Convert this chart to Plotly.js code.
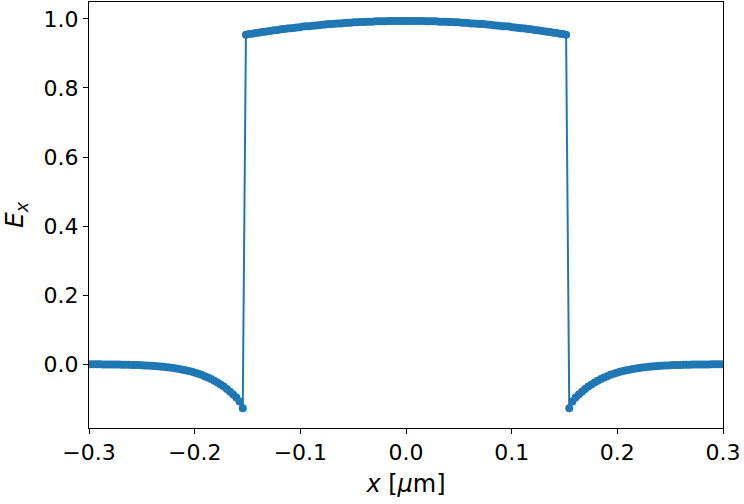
<!DOCTYPE html>
<html>
<head>
<meta charset="utf-8">
<script src="https://cdn.plot.ly/plotly-3.0.1.min.js"></script>
<style>
  html, body { margin: 0; padding: 0; background: #ffffff; }
  #chart { width: 744px; height: 504px; }
</style>
</head>
<body>
<div id="chart"></div>
<script>
// x positions in micrometres
var xValues = [
  -0.2985, -0.2955, -0.2925, -0.2895, -0.2865, -0.2835, -0.2805, -0.2775, -0.2745, -0.2715,
  -0.2685, -0.2655, -0.2625, -0.2595, -0.2565, -0.2535, -0.2505, -0.2475, -0.2445, -0.2415,
  -0.2385, -0.2355, -0.2325, -0.2295, -0.2265, -0.2235, -0.2205, -0.2175, -0.2145, -0.2115,
  -0.2085, -0.2055, -0.2025, -0.1995, -0.1965, -0.1935, -0.1905, -0.1875, -0.1845, -0.1815,
  -0.1785, -0.1755, -0.1725, -0.1695, -0.1665, -0.1635, -0.1605, -0.1575, -0.1545,
  -0.1515, -0.1485, -0.1455, -0.1425, -0.1395, -0.1365, -0.1335, -0.1305, -0.1275, -0.1245,
  -0.1215, -0.1185, -0.1155, -0.1125, -0.1095, -0.1065, -0.1035, -0.1005, -0.0975, -0.0945,
  -0.0915, -0.0885, -0.0855, -0.0825, -0.0795, -0.0765, -0.0735, -0.0705, -0.0675, -0.0645,
  -0.0615, -0.0585, -0.0555, -0.0525, -0.0495, -0.0465, -0.0435, -0.0405, -0.0375, -0.0345,
  -0.0315, -0.0285, -0.0255, -0.0225, -0.0195, -0.0165, -0.0135, -0.0105, -0.0075, -0.0045,
  -0.0015,
  0.0015, 0.0045, 0.0075, 0.0105, 0.0135, 0.0165, 0.0195, 0.0225, 0.0255, 0.0285,
  0.0315, 0.0345, 0.0375, 0.0405, 0.0435, 0.0465, 0.0495, 0.0525, 0.0555, 0.0585,
  0.0615, 0.0645, 0.0675, 0.0705, 0.0735, 0.0765, 0.0795, 0.0825, 0.0855, 0.0885,
  0.0915, 0.0945, 0.0975, 0.1005, 0.1035, 0.1065, 0.1095, 0.1125, 0.1155, 0.1185,
  0.1215, 0.1245, 0.1275, 0.1305, 0.1335, 0.1365, 0.1395, 0.1425, 0.1455, 0.1485,
  0.1515,
  0.1545, 0.1575, 0.1605, 0.1635, 0.1665, 0.1695, 0.1725, 0.1755, 0.1785, 0.1815,
  0.1845, 0.1875, 0.1905, 0.1935, 0.1965, 0.1995, 0.2025, 0.2055, 0.2085, 0.2115,
  0.2145, 0.2175, 0.2205, 0.2235, 0.2265, 0.2295, 0.2325, 0.2355, 0.2385, 0.2415,
  0.2445, 0.2475, 0.2505, 0.2535, 0.2565, 0.2595, 0.2625, 0.2655, 0.2685, 0.2715,
  0.2745, 0.2775, 0.2805, 0.2835, 0.2865, 0.2895, 0.2925, 0.2955, 0.2985
];

// E_x field values
var exValues = [
  -0.0004, -0.0004, -0.0005, -0.0006, -0.0007, -0.0008, -0.0009, -0.0010, -0.0011, -0.0013,
  -0.0015, -0.0017, -0.0019, -0.0022, -0.0025, -0.0028, -0.0032, -0.0036, -0.0041, -0.0047,
  -0.0053, -0.0060, -0.0068, -0.0077, -0.0087, -0.0098, -0.0110, -0.0125, -0.0140, -0.0160,
  -0.0180, -0.0200, -0.0220, -0.0250, -0.0280, -0.0310, -0.0350, -0.0390, -0.0430, -0.0480,
  -0.0530, -0.0590, -0.0650, -0.0720, -0.0800, -0.0880, -0.0970, -0.1080, -0.1280,
  0.954, 0.956, 0.957, 0.959, 0.960, 0.962, 0.963, 0.964, 0.966, 0.967,
  0.968, 0.970, 0.971, 0.972, 0.973, 0.974, 0.975, 0.976, 0.978, 0.979,
  0.979, 0.980, 0.981, 0.982, 0.983, 0.984, 0.985, 0.985, 0.986, 0.987,
  0.987, 0.988, 0.989, 0.989, 0.990, 0.990, 0.991, 0.991, 0.992, 0.992,
  0.992, 0.993, 0.993, 0.993, 0.993, 0.994, 0.994, 0.994, 0.994, 0.994,
  0.994,
  0.994, 0.994, 0.994, 0.994, 0.994, 0.994, 0.993, 0.993, 0.993, 0.993,
  0.992, 0.992, 0.992, 0.991, 0.991, 0.990, 0.990, 0.989, 0.989, 0.988,
  0.987, 0.987, 0.986, 0.985, 0.985, 0.984, 0.983, 0.982, 0.981, 0.980,
  0.979, 0.979, 0.978, 0.976, 0.975, 0.974, 0.973, 0.972, 0.971, 0.970,
  0.968, 0.967, 0.966, 0.964, 0.963, 0.962, 0.960, 0.959, 0.957, 0.956,
  0.954,
  -0.1280, -0.1080, -0.0970, -0.0880, -0.0800, -0.0720, -0.0650, -0.0590, -0.0530, -0.0480,
  -0.0430, -0.0390, -0.0350, -0.0310, -0.0280, -0.0250, -0.0220, -0.0200, -0.0180, -0.0160,
  -0.0140, -0.0125, -0.0110, -0.0098, -0.0087, -0.0077, -0.0068, -0.0060, -0.0053, -0.0047,
  -0.0041, -0.0036, -0.0032, -0.0028, -0.0025, -0.0022, -0.0019, -0.0017, -0.0015, -0.0013,
  -0.0011, -0.0010, -0.0009, -0.0008, -0.0007, -0.0006, -0.0005, -0.0004, -0.0004
];

var xTicks = [-0.3, -0.2, -0.1, 0.0, 0.1, 0.2, 0.3];
var yTicks = [0.0, 0.2, 0.4, 0.6, 0.8, 1.0];

var blue = '#1f77b4';
var font = 'DejaVu Sans, sans-serif';

var trace = {
  type: 'scatter',
  mode: 'lines+markers',
  x: xValues,
  y: exValues,
  line: { color: blue, width: 2 },
  marker: { color: blue, size: 8 },
  hoverinfo: 'x+y'
};

var axisCommon = {
  showgrid: false,
  zeroline: false,
  showline: true,
  mirror: true,
  linecolor: '#000000',
  linewidth: 1,
  ticks: 'outside',
  ticklen: 5,
  tickwidth: 1,
  tickcolor: '#000000',
  tickfont: { family: font, size: 22, color: '#000000' }
};

var layout = {
  width: 744,
  height: 504,
  margin: { l: 89, r: 21, t: 2, b: 76 },
  paper_bgcolor: '#ffffff',
  plot_bgcolor: '#ffffff',
  showlegend: false,
  font: { family: font, color: '#000000' },
  xaxis: Object.assign({}, axisCommon, {
    range: [-0.3, 0.3],
    tickvals: xTicks,
    tickformat: '.1f',
    title: { text: '<i>x</i> [<i>μ</i>m]', font: { family: font, size: 24 }, standoff: 10 }
  }),
  yaxis: Object.assign({}, axisCommon, {
    range: [-0.185, 1.049],
    tickvals: yTicks,
    tickformat: '.1f',
    title: { text: '<i>E</i><sub><i>x</i></sub>', font: { family: font, size: 25 }, standoff: 16 }
  })
};

Plotly.newPlot('chart', [trace], layout, { displayModeBar: false, staticPlot: true });
</script>
</body>
</html>
